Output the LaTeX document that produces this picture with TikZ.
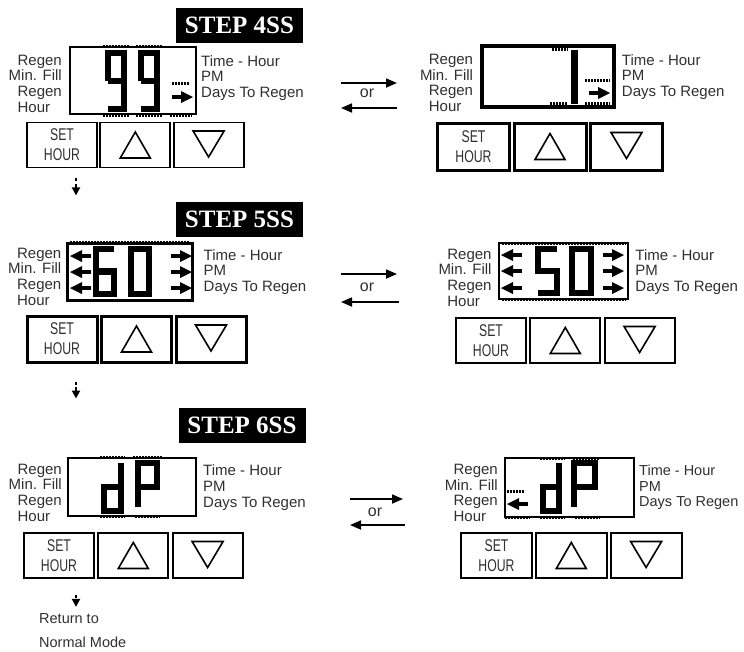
\documentclass[tikz,border=0pt]{standalone}
\usepackage{fontspec}
\setmainfont{Liberation Sans}
\newfontfamily\hdrfont{Liberation Serif}
\newfontfamily\keyfont{Liberation Sans}[FakeStretch=0.72]
\usetikzlibrary{arrows.meta, positioning}
\definecolor{lblgray}{HTML}{303030}

% small arrow marks inside the displays
\newcommand{\indR}[2]{\fill (#1,#2-6) -- (#1+12,#2) -- (#1,#2+6) -- cycle;
  \draw[line width=3.5pt] (#1-9,#2) -- (#1,#2);}
\newcommand{\indL}[2]{\fill (#1,#2-6) -- (#1-12,#2) -- (#1,#2+6) -- cycle;
  \draw[line width=3.5pt] (#1,#2) -- (#1+9,#2);}
% button triangles
\newcommand{\keyup}[1]{\draw[line width=1.6pt, line join=miter]
  ([shift={(-15,13)}]#1.center) -- ([shift={(15,13)}]#1.center) -- ([shift={(0,-13)}]#1.center) -- cycle;}
\newcommand{\keydown}[1]{\draw[line width=1.6pt, line join=miter]
  ([shift={(-15.5,-14)}]#1.center) -- ([shift={(15.5,-14)}]#1.center) -- ([shift={(0,12)}]#1.center) -- cycle;}

\begin{document}
\begin{tikzpicture}[x=1pt, y=-1pt,
    header/.style={fill=black, text=white, font=\hdrfont\bfseries\fontsize{25}{25}\selectfont,
                   minimum width=127pt, minimum height=35pt, inner sep=0pt},
    lcd/.style={draw, line width=2pt, inner sep=0pt},
    lbl/.style={font=\fontsize{15}{15.7}\selectfont, text=lblgray, inner sep=0pt},
    key/.style={draw, line width=1.8pt, minimum width=70pt, minimum height=45pt, inner sep=0pt,
                align=center, font=\keyfont\fontsize{17}{20}\selectfont, text=lblgray},
    seg/.style={line width=6.5pt, line join=miter},
    ticks/.style={line width=3pt, dash pattern=on 1.5pt off 1.5pt},
    orarrow/.style={line width=1.7pt, -{Triangle[length=11pt, width=9pt]}},
    nextarrow/.style={line width=2.5pt, dash pattern=on 3pt off 2.5pt on 30pt off 0pt,
                      -{Triangle[length=8pt, width=8pt]}}
  ]
  \useasboundingbox (0,0) rectangle (744,651);

  % ---- step 4SS
  \node[header] (hdr4) at (239.5,25) {STEP 4SS};

  \node[lcd, minimum width=126pt, minimum height=67pt] (dispA) at (133,80.5) {};
  \node[lbl, align=right, left=7pt of dispA, yshift=-4.5pt] (regA) {Regen\\Min. Fill\\Regen\\\rlap{Hour}\phantom{Regen}};
  \node[lbl, align=left, right=4pt of dispA, yshift=2.5pt] (timeA) {Time - Hour\\PM\\Days To Regen};
  \draw[seg] (108,81) -- (108,53) -- (124,53) -- (124,109) -- (108,109);
  \draw[seg] (108,81) -- (124,81);
  \draw[seg] (141,81) -- (141,53) -- (157,53) -- (157,109) -- (141,109);
  \draw[seg] (141,81) -- (157,81);
  \draw[ticks] (103,46) -- (129,46) (136,46) -- (162,46)
               (103,115) -- (129,115) (136,115) -- (162,115) (170,115) -- (192,115)
               (172,83) -- (190,83);
  \indR{181}{97}

  \node[key] (setA) at (62,145) {SET\\HOUR};
  \node[key, right=1.5pt of setA] (upA) {};
  \node[key, right=1.5pt of upA] (dnA) {};
  \keyup{upA}
  \keydown{dnA}
  \draw[nextarrow] ([xshift=14pt, yshift=-10pt]setA.south) -- ++(0,17);

  \node[lcd, line width=3.5pt, minimum width=132pt, minimum height=61pt] (dispB) at (548,76.5) {};
  \node[lbl, align=right, left=7pt of dispB, yshift=-8pt] (regB) {Regen\\Min. Fill\\Regen\\\rlap{Hour}\phantom{Regen}};
  \node[lbl, align=left, right=6pt of dispB, yshift=-0.5pt] (timeB) {Time - Hour\\PM\\Days To Regen};
  \draw[seg, line width=7pt] (574.5,50) -- (574.5,104);
  \draw[ticks] (552,49) -- (568,49) (550,103) -- (568,103)
               (585,80) -- (610,80) (585,103) -- (610,103);
  \indR{598}{93}

  \node[key, line width=3pt, minimum width=72pt, minimum height=47pt] (setB) at (473.5,146.5) {SET\\HOUR};
  \node[key, line width=3pt, minimum width=72pt, minimum height=47pt, right=1.5pt of setB] (upB) {};
  \node[key, line width=3pt, minimum width=72pt, minimum height=47pt, right=1.5pt of upB] (dnB) {};
  \keyup{upB}
  \keydown{dnB}

  \node[lbl, font=\fontsize{16}{16}\selectfont] (orA) at (367,93) {or};
  \draw[orarrow] ([shift={(-26,-10)}]orA.center) -- ([shift={(30,-10)}]orA.center);
  \draw[orarrow] ([shift={(30,15)}]orA.center) -- ([shift={(-26,15)}]orA.center);

  % ---- step 5SS
  \node[header] (hdr5) at (239.5,219.5) {STEP 5SS};

  \node[lcd, line width=3pt, minimum width=125pt, minimum height=57pt] (dispC) at (129.5,271.5) {};
  \node[lbl, align=right, left=4pt of dispC, yshift=-6.5pt] (regC) {Regen\\Min. Fill\\Regen\\\rlap{Hour}\phantom{Regen}};
  \node[lbl, align=left, right=10pt of dispC, yshift=-0.5pt] (timeC) {Time - Hour\\PM\\Days To Regen};
  \draw[seg] (114,249) -- (96,249) -- (96,294) -- (114,294) -- (114,271.5) -- (96,271.5);
  \draw[seg] (131,249) rectangle (149,294);
  \draw[ticks] (70,242) -- (190,242) (70,300) -- (190,300);
  \foreach \y in {256,272,288} {
    \indL{82}{\y}
    \indR{180}{\y}
  }

  \node[key, line width=3pt, minimum height=46pt] (setC) at (62,339) {SET\\HOUR};
  \node[key, line width=3pt, minimum height=46pt, right=1.5pt of setC] (upC) {};
  \node[key, line width=3pt, minimum height=46pt, right=1.5pt of upC] (dnC) {};
  \keyup{upC}
  \keydown{dnC}
  \draw[nextarrow] ([xshift=14pt, yshift=-18pt]setC.south) -- ++(0,17);

  \node[lcd, line width=2.5pt, minimum width=129pt, minimum height=56pt] (dispD) at (563.5,271) {};
  \node[lbl, align=right, left=6pt of dispD, yshift=-8pt] (regD) {Regen\\Min. Fill\\Regen\\\rlap{Hour}\phantom{Regen}};
  \node[lbl, align=left, right=6pt of dispD, yshift=-1pt] (timeD) {Time - Hour\\PM\\Days To Regen};
  \draw[seg] (557,249) -- (538,249) -- (538,271) -- (557,271) -- (557,293) -- (538,293);
  \draw[seg] (572,249) rectangle (591,293);
  \draw[ticks] (502,243) -- (626,243) (502,299) -- (626,299);
  \foreach \y in {255,271,288} {
    \indL{513}{\y}
    \indR{612}{\y}
  }

  \node[key] (setD) at (491,340.5) {SET\\HOUR};
  \node[key, right=2.5pt of setD] (upD) {};
  \node[key, right=2.5pt of upD] (dnD) {};
  \keyup{upD}
  \keydown{dnD}

  \node[lbl, font=\fontsize{16}{16}\selectfont] (orB) at (367,287) {or};
  \draw[orarrow] ([shift={(-26,-13)}]orB.center) -- ([shift={(30,-13)}]orB.center);
  \draw[orarrow] ([shift={(32,15)}]orB.center) -- ([shift={(-26,15)}]orB.center);

  % ---- step 6SS
  \node[header] (hdr6) at (242,425.5) {STEP 6SS};

  \node[lcd, minimum width=128pt, minimum height=58pt] (dispE) at (132,487) {};
  \node[lbl, align=right, left=5pt of dispE, yshift=-7pt] (regE) {Regen\\Min. Fill\\Regen\\\rlap{Hour}\phantom{Regen}};
  \node[lbl, align=left, right=6pt of dispE, yshift=-0.5pt] (timeE) {Time - Hour\\PM\\Days To Regen};
  \draw[seg] (121,463) -- (121,511) -- (104,511) -- (104,487) -- (121,487);
  \draw[seg] (138,507) -- (138,463) -- (157,463) -- (157,487) -- (138,487);
  \draw[ticks] (100,457) -- (125,457) (133,457) -- (163,457)
               (100,516) -- (125,516) (135,516) -- (160,516);

  \node[key] (setE) at (59,555.5) {SET\\HOUR};
  \node[key, right=2.5pt of setE] (upE) {};
  \node[key, right=2.5pt of upE] (dnE) {};
  \keyup{upE}
  \keydown{dnE}
  \draw[nextarrow] ([xshift=17pt, yshift=-16pt]setE.south) -- ++(0,12);
  \node[lbl, font=\fontsize{14.5}{14.5}\selectfont, anchor=west] (ret) at (39,619) {Return to};
  \node[lbl, font=\fontsize{14.5}{14.5}\selectfont, anchor=west] (norm) at ([yshift=-23pt]ret.west) {Normal Mode};

  \node[lcd, minimum width=129pt, minimum height=59pt] (dispF) at (569.5,487.5) {};
  \node[lbl, align=right, left=6pt of dispF, yshift=-7pt] (regF) {Regen\\Min. Fill\\Regen\\\rlap{Hour}\phantom{Regen}};
  \node[lbl, font=\fontsize{14.5}{15.7}\selectfont, align=left, right=4pt of dispF, yshift=0pt] (timeF) {Time - Hour\\PM\\Days To Regen};
  \draw[seg] (559,463) -- (559,511) -- (543,511) -- (543,487) -- (559,487);
  \draw[seg] (574,507) -- (574,463) -- (595,463) -- (595,487) -- (574,487);
  \draw[ticks] (540,458) -- (565,458) (573,458) -- (600,458)
               (505,517) -- (530,517) (540,517) -- (565,517) (575,517) -- (600,517)
               (507,491) -- (525,491);
  \indL{519}{504}

  \node[key, minimum width=71pt] (setF) at (496.5,555.5) {SET\\HOUR};
  \node[key, minimum width=71pt, right=2pt of setF] (upF) {};
  \node[key, minimum width=71pt, right=2pt of upF] (dnF) {};
  \keyup{upF}
  \keydown{dnF}

  \node[lbl, font=\fontsize{16}{16}\selectfont] (orC) at (375,512) {or};
  \draw[orarrow] ([shift={(-25,-13)}]orC.center) -- ([shift={(28,-13)}]orC.center);
  \draw[orarrow] ([shift={(30,13)}]orC.center) -- ([shift={(-25,13)}]orC.center);
\end{tikzpicture}
\end{document}
